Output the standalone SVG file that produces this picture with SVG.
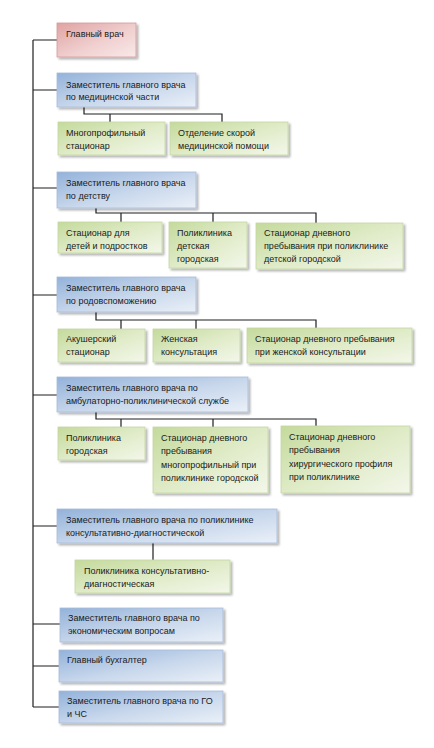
<svg xmlns="http://www.w3.org/2000/svg" width="434" height="748" viewBox="0 0 434 748">
<defs>
<linearGradient id="gBlue" x1="0" y1="0" x2="1" y2="1">
<stop offset="0" stop-color="#93b2da"/><stop offset="0.55" stop-color="#c9d8ec"/><stop offset="1" stop-color="#eaf0f8"/>
</linearGradient>
<linearGradient id="gGreen" x1="0" y1="0" x2="1" y2="1">
<stop offset="0" stop-color="#c4da9c"/><stop offset="0.55" stop-color="#e1ecca"/><stop offset="1" stop-color="#f3f7ea"/>
</linearGradient>
<linearGradient id="gRed" x1="0" y1="0" x2="1" y2="1">
<stop offset="0" stop-color="#e0a2a2"/><stop offset="0.55" stop-color="#f0cfcf"/><stop offset="1" stop-color="#f9e9e9"/>
</linearGradient>
<filter id="sh" x="-10%" y="-10%" width="125%" height="140%">
<feDropShadow dx="2" dy="2" stdDeviation="1.3" flood-color="#000" flood-opacity="0.3"/>
</filter>
</defs>
<style>
.b{fill:url(#gBlue);stroke:#a7bcd9;stroke-width:0.8;filter:url(#sh)}
.g{fill:url(#gGreen);stroke:#c3d6a0;stroke-width:0.8;filter:url(#sh)}
.r{fill:url(#gRed);stroke:#d49a9a;stroke-width:0.8;filter:url(#sh)}
text{font-family:"Liberation Sans",Arial,sans-serif;font-size:9px;fill:#1a1a1a}
.c{fill:none;stroke:#1e1e1e;stroke-width:1.2}
</style>
<rect width="434" height="748" fill="#ffffff"/>
<g id="connectors">
<path class="c" d="M33 40 V707"/>
<path class="c" d="M33 40 H57 M33 90 H57 M33 188 H57 M33 295 H57 M33 395 H57 M33 526 H57 M33 624 H60 M33 666 H59 M33 707 H59"/>
<path class="c" d="M84 107 V114 H222 V122 M110 114 V122"/>
<path class="c" d="M96 208 V213 H316 V223 M121 213 V222 M213 213 V222"/>
<path class="c" d="M96 312 V320 H316 V328 M121 320 V329 M196 320 V329"/>
<path class="c" d="M96 412 V419 H316 V426 M121 419 V427 M213 419 V427"/>
<path class="c" d="M153 543 V560"/>
</g>
<g id="glav"><rect class="r" x="57" y="23" width="79" height="34"/><text x="66" y="37">Главный врач</text></g>
<g id="dep1"><rect class="b" x="57" y="73" width="139" height="34"/><text x="66" y="88">Заместитель главного врача</text><text x="66" y="100">по медицинской  части</text></g>
<g id="c1a"><rect class="g" x="58" y="122" width="107" height="33"/><text x="66" y="136">Многопрофильный</text><text x="66" y="149">стационар</text></g>
<g id="c1b"><rect class="g" x="170" y="122" width="118" height="33"/><text x="178" y="136">Отделение скорой</text><text x="178" y="149">медицинской помощи</text></g>
<g id="dep2"><rect class="b" x="57" y="172" width="139" height="36"/><text x="66" y="186">Заместитель главного врача</text><text x="66" y="199">по детству</text></g>
<g id="c2a"><rect class="g" x="58" y="222" width="104" height="31"/><text x="66" y="236">Стационар для</text><text x="66" y="249">детей и подростков</text></g>
<g id="c2b"><rect class="g" x="169" y="222" width="78" height="46"/><text x="177" y="236">Поликлиника</text><text x="177" y="249">детская</text><text x="177" y="262">городская</text></g>
<g id="c2c"><rect class="g" x="256" y="223" width="147" height="46"/><text x="264" y="236">Стационар дневного</text><text x="264" y="249">пребывания при поликлинике</text><text x="264" y="262">детской городской</text></g>
<g id="dep3"><rect class="b" x="57" y="277" width="139" height="35"/><text x="66" y="291">Заместитель главного врача</text><text x="66" y="304">по родовспоможению</text></g>
<g id="c3a"><rect class="g" x="58" y="329" width="87" height="33"/><text x="66" y="342">Акушерский</text><text x="66" y="355">стационар</text></g>
<g id="c3b"><rect class="g" x="153" y="329" width="87" height="33"/><text x="161" y="342">Женская</text><text x="161" y="355">консультация</text></g>
<g id="c3c"><rect class="g" x="247" y="328" width="165" height="35"/><text x="255" y="342">Стационар дневного  пребывания</text><text x="255" y="355">при женской  консультации</text></g>
<g id="dep4"><rect class="b" x="57" y="377" width="191" height="35"/><text x="66" y="391">Заместитель главного врача по</text><text x="66" y="404">амбулаторно-поликлинической  службе</text></g>
<g id="c4a"><rect class="g" x="58" y="427" width="87" height="33"/><text x="66" y="441">Поликлиника</text><text x="66" y="454">городская</text></g>
<g id="c4b"><rect class="g" x="153" y="427" width="115" height="66"/><text x="161" y="441">Стационар дневного</text><text x="161" y="454">пребывания</text><text x="161" y="468">многопрофильный  при</text><text x="161" y="481">поликлинике городской</text></g>
<g id="c4c"><rect class="g" x="281" y="426" width="129" height="67"/><text x="289" y="440">Стационар дневного</text><text x="289" y="453">пребывания</text><text x="289" y="467">хирургического  профиля</text><text x="289" y="480">при поликлинике</text></g>
<g id="dep5"><rect class="b" x="57" y="509" width="220" height="34"/><text x="66" y="523">Заместитель главного врача по поликлинике</text><text x="66" y="536">консультативно-диагностической</text></g>
<g id="c5"><rect class="g" x="75" y="560" width="155" height="33"/><text x="84" y="574">Поликлиника  консультативно-</text><text x="84" y="587">диагностическая</text></g>
<g id="dep6"><rect class="b" x="60" y="608" width="163" height="34"/><text x="68" y="621">Заместитель главного врача по</text><text x="68" y="634">экономическим  вопросам</text></g>
<g id="buh"><rect class="b" x="59" y="650" width="164" height="32"/><text x="67" y="663">Главный бухгалтер</text></g>
<g id="go"><rect class="b" x="59" y="691" width="164" height="32"/><text x="67" y="704">Заместитель главного врача по ГО</text><text x="67" y="717">и ЧС</text></g>
</svg>
